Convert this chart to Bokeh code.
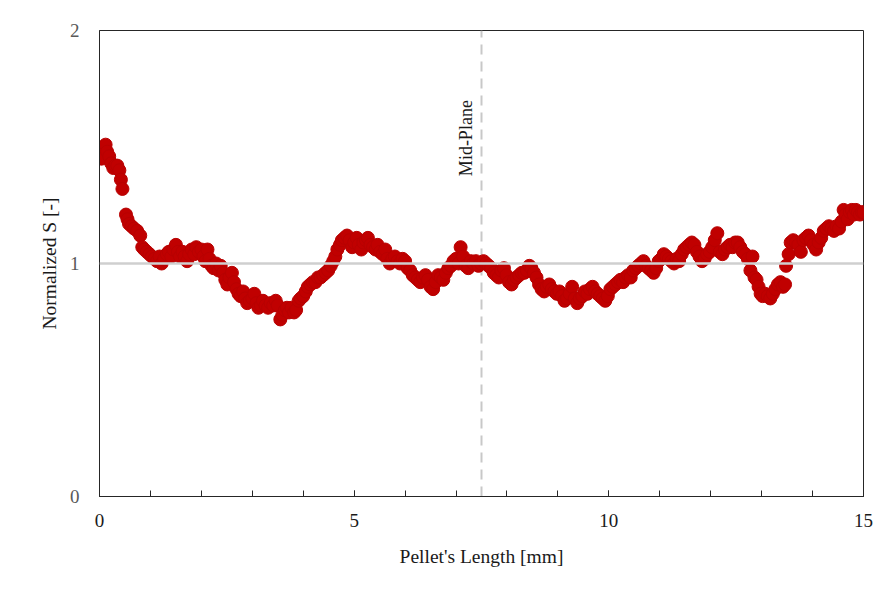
import numpy as np
from bokeh.plotting import figure
from bokeh.models import Range1d, SingleIntervalTicker, Span, ColumnDataSource
from bokeh.core.properties import value
from bokeh.embed import file_html
from bokeh.resources import INLINE

# Pellet position [mm] and normalized S [-]
x_mm = [
    0.00, 0.04, 0.08, 0.12, 0.15, 0.19, 0.23, 0.27, 0.31, 0.35, 0.39, 0.42, 0.45, 0.52, 0.55, 0.58,
    0.63, 0.68, 0.74, 0.80, 0.84, 0.88, 0.93, 0.98,
    1.03, 1.08, 1.13, 1.18, 1.22, 1.27, 1.32, 1.36, 1.41, 1.45, 1.50, 1.54, 1.58, 1.63, 1.67, 1.72,
    1.76, 1.81, 1.86, 1.90, 1.95, 2.00, 2.04, 2.08, 2.12, 2.16, 2.20, 2.24, 2.29, 2.34, 2.38,
    2.43, 2.47, 2.51, 2.55, 2.60, 2.64, 2.69, 2.73, 2.77, 2.82, 2.86, 2.90, 2.95, 3.00, 3.04, 3.08,
    3.12, 3.17, 3.21, 3.26, 3.31, 3.36, 3.41, 3.46, 3.50, 3.55, 3.59, 3.64, 3.68, 3.72, 3.77, 3.82,
    3.86, 3.91, 3.95, 4.00, 4.05, 4.09, 4.14, 4.19, 4.24, 4.29, 4.34, 4.39, 4.44, 4.49, 4.54, 4.59,
    4.63, 4.67, 4.72, 4.76, 4.81,
    4.86, 4.91, 4.96, 5.00, 5.05, 5.09, 5.14, 5.18, 5.23, 5.27, 5.32, 5.37, 5.42, 5.46, 5.51, 5.56,
    5.61, 5.65, 5.70, 5.75, 5.80, 5.85, 5.90, 5.95, 6.00, 6.05, 6.10, 6.15, 6.20, 6.25, 6.30, 6.35,
    6.40, 6.45, 6.50, 6.55, 6.60, 6.65, 6.70, 6.75, 6.80, 6.85, 6.90, 6.95, 7.00, 7.05, 7.09, 7.14,
    7.19, 7.24, 7.29, 7.34,
    7.39, 7.44, 7.49, 7.54, 7.59, 7.64, 7.69, 7.74, 7.79, 7.84, 7.89, 7.94, 7.99, 8.04, 8.09, 8.14,
    8.19, 8.24, 8.29, 8.34, 8.39, 8.44, 8.48, 8.53, 8.58, 8.63, 8.68, 8.73, 8.78, 8.83, 8.88, 8.93,
    8.98, 9.03, 9.08, 9.13, 9.18, 9.23, 9.28, 9.33, 9.38, 9.43, 9.48, 9.53, 9.58, 9.63, 9.68, 9.73,
    9.78,
    9.83, 9.88, 9.93, 9.98, 10.03, 10.08, 10.13, 10.18, 10.23, 10.28, 10.33, 10.38, 10.43, 10.48,
    10.53, 10.58, 10.63, 10.68, 10.73, 10.78, 10.83, 10.88, 10.93, 10.98, 11.03, 11.08, 11.13, 11.18,
    11.23, 11.28, 11.33, 11.38, 11.43, 11.48, 11.53, 11.58, 11.63, 11.68, 11.73, 11.78, 11.83, 11.88,
    11.93, 11.98, 12.03, 12.08, 12.13, 12.18, 12.23, 12.28, 12.33, 12.38, 12.43, 12.48,
    12.53, 12.58, 12.63, 12.68, 12.73, 12.78, 12.82, 12.86, 12.90, 12.94, 12.98, 13.02, 13.07, 13.12,
    13.17, 13.22, 13.27, 13.32, 13.37, 13.42, 13.46, 13.48, 13.53, 13.57, 13.62, 13.67, 13.72, 13.77,
    13.82, 13.87, 13.92, 13.97, 14.02, 14.07, 14.12, 14.17, 14.22, 14.27, 14.32, 14.37, 14.42, 14.47,
    14.52, 14.57, 14.61, 14.65, 14.69, 14.73, 14.77, 14.81, 14.85, 14.89, 14.93, 14.97, 15.00,
]
s_norm = [
    1.46, 1.45, 1.50, 1.51, 1.48, 1.46, 1.43, 1.41, 1.42, 1.42, 1.40, 1.36, 1.32, 1.21, 1.19, 1.17,
    1.16, 1.15, 1.14, 1.12, 1.07, 1.06, 1.05, 1.04,
    1.03, 1.02, 1.01, 1.03, 1.00, 1.02, 1.04, 1.05, 1.03, 1.06, 1.08, 1.05, 1.03, 1.05, 1.03, 1.01,
    1.04, 1.06, 1.04, 1.07, 1.05, 1.06, 1.03, 1.01, 1.06, 1.02, 0.99, 0.98, 1.00, 0.97, 0.99,
    0.96, 0.93, 0.91, 0.94, 0.96, 0.92, 0.89, 0.87, 0.86, 0.88, 0.85, 0.83, 0.84, 0.85, 0.87, 0.83,
    0.81, 0.82, 0.84, 0.82, 0.81, 0.83, 0.82, 0.84, 0.82, 0.76, 0.78, 0.80, 0.81, 0.79, 0.81, 0.79,
    0.80, 0.84, 0.85, 0.86, 0.88, 0.90, 0.91, 0.92, 0.92, 0.94, 0.94, 0.95, 0.96, 0.97, 0.99, 1.01,
    1.03, 1.06, 1.08, 1.10, 1.11,
    1.12, 1.10, 1.07, 1.09, 1.11, 1.08, 1.06, 1.09, 1.10, 1.11, 1.08, 1.07, 1.06, 1.08, 1.05, 1.04,
    1.06, 1.02, 1.00, 1.02, 1.03, 1.01, 1.00, 1.02, 1.01, 0.98, 0.97, 0.95, 0.94, 0.93, 0.92, 0.94,
    0.95, 0.93, 0.90, 0.89, 0.92, 0.95, 0.94, 0.93, 0.96, 0.98, 0.99, 1.01, 1.02, 1.00, 1.07, 1.03,
    0.99, 0.98, 1.01, 1.00,
    1.01, 0.99, 1.00, 1.01, 1.00, 0.99, 0.98, 0.96, 0.95, 0.94, 0.97, 0.98, 0.95, 0.92, 0.91, 0.93,
    0.94, 0.95, 0.96, 0.96, 0.97, 0.99, 0.98, 0.96, 0.94, 0.91, 0.89, 0.88, 0.90, 0.91, 0.89, 0.88,
    0.87, 0.88, 0.86, 0.84, 0.85, 0.87, 0.90, 0.85, 0.83, 0.85, 0.86, 0.88, 0.87, 0.89, 0.90, 0.88,
    0.87,
    0.86, 0.85, 0.84, 0.86, 0.89, 0.90, 0.91, 0.92, 0.93, 0.92, 0.94, 0.95, 0.94, 0.97,
    0.98, 0.99, 1.00, 1.01, 0.99, 0.98, 0.97, 0.96, 0.98, 1.01, 1.02, 1.04, 1.03, 1.02,
    1.01, 1.00, 1.02, 1.01, 1.04, 1.06, 1.07, 1.08, 1.09, 1.08, 1.05, 1.03, 1.01, 1.02,
    1.04, 1.05, 1.07, 1.10, 1.13, 1.05, 1.04, 1.06, 1.07, 1.08, 1.07, 1.09,
    1.09, 1.07, 1.05, 1.04, 1.02, 0.97, 1.03, 0.94, 0.93, 0.90, 0.87, 0.86, 0.87, 0.86,
    0.85, 0.87, 0.89, 0.91, 0.92, 0.90, 0.91, 0.99, 1.04, 1.09, 1.10, 1.09, 1.08, 1.05,
    1.10, 1.11, 1.12, 1.10, 1.08, 1.06, 1.09, 1.11, 1.14, 1.15, 1.16, 1.15, 1.14, 1.16,
    1.15, 1.18, 1.23, 1.21, 1.19, 1.22, 1.23, 1.21, 1.23, 1.22, 1.21, 1.22, 1.22,
]

x_major_ticks = [0, 5, 10, 15]
y_major_ticks = [0, 1, 2]
mid_plane_x = [7.5]
mid_plane_label = ["Mid-Plane"]
reference_level = 1.0

FONT = "Liberation Serif"

p = figure(width=886, height=595, output_backend="svg", toolbar_location=None,
           x_range=Range1d(0, 15), y_range=Range1d(0, 2),
           min_border_left=99, min_border_right=23, min_border_top=30, min_border_bottom=99)
p.background_fill_color = "white"
p.border_fill_color = "white"
p.outline_line_color = "#262626"
p.outline_line_width = 1
p.xgrid.visible = False
p.ygrid.visible = False

# reference line at 1
p.add_layout(Span(location=reference_level, dimension="width", line_color="#CFCFCF", line_width=2.5))

# mid-plane dashed line
src_mid = ColumnDataSource(dict(x=mid_plane_x, y0=[0], y1=[2]))
p.segment(x0="x", y0="y0", x1="x", y1="y1", source=src_mid,
          line_color="#C8C8C8", line_width=2, line_dash="10 7")

src_lbl = ColumnDataSource(dict(x=[mid_plane_x[0] - 0.30], y=[1.375], t=mid_plane_label))
p.text(x="x", y="y", text="t", source=src_lbl, angle=np.pi / 2,
       text_align="left", text_baseline="middle",
       text_font=value(FONT), text_font_size="18px", text_color="#1a1a1a")

src = ColumnDataSource(dict(x=x_mm, y=s_norm))
p.scatter(x="x", y="y", source=src, size=13, fill_color="#C00000",
          line_color="#B80000", line_width=1)

# x axis
xt = SingleIntervalTicker(interval=5, num_minor_ticks=5)
p.xaxis.ticker = xt
p.xaxis.axis_label = "Pellet's Length [mm]"
p.xaxis.axis_label_text_font = FONT
p.xaxis.axis_label_text_font_style = "normal"
p.xaxis.axis_label_text_font_size = "19.5px"
p.xaxis.axis_label_text_color = "#1a1a1a"
p.xaxis.axis_label_standoff = 16
p.xaxis.major_label_text_font = FONT
p.xaxis.major_label_text_font_size = "19px"
p.xaxis.major_label_text_color = "#1a1a1a"
p.xaxis.major_label_standoff = 17
p.xaxis.axis_line_color = "#262626"
p.xaxis.major_tick_in = 6
p.xaxis.major_tick_out = 0
p.xaxis.minor_tick_in = 6
p.xaxis.minor_tick_out = 0
p.xaxis.major_tick_line_color = "#262626"
p.xaxis.minor_tick_line_color = "#262626"

# y axis
yt = SingleIntervalTicker(interval=1, num_minor_ticks=0)
p.yaxis.ticker = yt
p.yaxis.axis_label = "Normalized S [-]"
p.yaxis.axis_label_text_font = FONT
p.yaxis.axis_label_text_font_style = "normal"
p.yaxis.axis_label_text_font_size = "19.5px"
p.yaxis.axis_label_text_color = "#1a1a1a"
p.yaxis.axis_label_standoff = 7
p.yaxis.major_label_text_font = FONT
p.yaxis.major_label_text_font_size = "19px"
p.yaxis.major_label_text_color = "#595959"
p.yaxis.major_label_standoff = 14
p.yaxis.axis_line_color = "#262626"
p.yaxis.major_tick_line_color = None
p.yaxis.minor_tick_line_color = None

open("out.html", "w").write(file_html(p, INLINE))
